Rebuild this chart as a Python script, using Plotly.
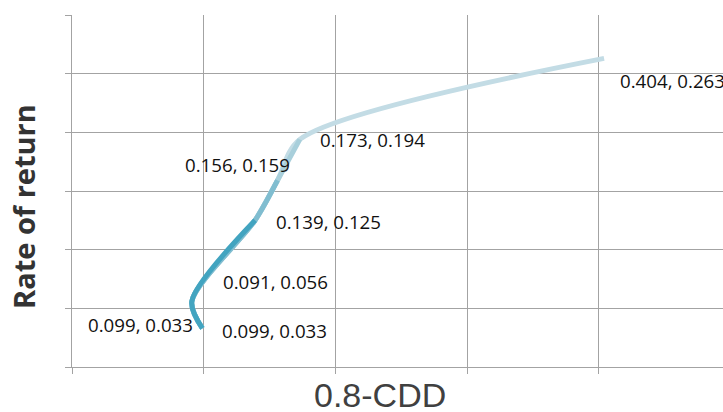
import plotly.graph_objects as go

# Data
x_vals = [0.099, 0.091, 0.139, 0.156, 0.173, 0.404]
y_vals = [0.033, 0.056, 0.125, 0.159, 0.194, 0.263]
# which point each data label belongs to
label_points = [0, 0, 1, 2, 3, 4, 5]
x_title = "0.8-CDD"
y_title = "Rate of return"

# Styling (label offsets in px, anchors)
label_style = [
    dict(xanchor="left", xshift=18, yshift=-2),
    dict(xanchor="right", xshift=-7, yshift=4),
    dict(xanchor="left", xshift=29, yshift=20),
    dict(xanchor="left", xshift=19, yshift=-1.5),
    dict(xanchor="right", xshift=15, yshift=15.5),
    dict(xanchor="left", xshift=18, yshift=-0.5),
    dict(xanchor="left", xshift=14, yshift=-22.5),
]
# gradient layers: (number of leading points, colour)
layers = [(6, "#c3dce5"), (5, "#a8cfdb"), (4, "#80bdd0"), (3, "#42a4c0")]
SMOOTH = 0.85

W, H = 723, 412
L, T, B = 72, 15, 45
pw, ph = W - L, H - T - B


def px2paper(px, py):
    return (px - L) / pw, (H - B - py) / ph


fig = go.Figure()
for n, col in layers:
    fig.add_trace(go.Scatter(
        x=x_vals[:n], y=y_vals[:n], mode="lines",
        line=dict(color=col, width=5, shape="spline", smoothing=SMOOTH),
        hoverinfo="skip", showlegend=False,
    ))

for idx, st in zip(label_points, label_style):
    fig.add_annotation(
        x=x_vals[idx], y=y_vals[idx], xref="x", yref="y",
        text=f"{x_vals[idx]:.3f}, {y_vals[idx]:.3f}",
        showarrow=False, yanchor="middle",
        font=dict(family="Open Sans", size=18.7, color="#111111"),
        **st,
    )

tx, ty = px2paper(380, 395)
fig.add_annotation(
    x=tx, y=ty, xref="paper", yref="paper", text=x_title, showarrow=False,
    xanchor="center", yanchor="middle",
    font=dict(family="Liberation Sans", size=34, color="#404040"),
)
yx, yy = px2paper(23, 207)
fig.add_annotation(
    x=yx, y=yy, xref="paper", yref="paper", text=f"<b>{y_title}</b>", showarrow=False,
    xanchor="center", yanchor="middle", textangle=-90,
    font=dict(family="Open Sans", size=29, color="#333333"),
)

grid = "#a3a3a3"
axis_common = dict(
    showgrid=True, gridcolor=grid, gridwidth=1.3,
    showline=True, linecolor=grid, linewidth=1.3,
    ticks="outside", ticklen=6, tickcolor=grid, tickwidth=1.3,
    showticklabels=False, zeroline=False, automargin=False,
)
fig.update_layout(
    width=W, height=H,
    margin=dict(l=L, r=0, t=T, b=B, pad=0, autoexpand=False),
    paper_bgcolor="white", plot_bgcolor="white",
    showlegend=False,
    xaxis=dict(range=[0, 0.4943], dtick=0.1, tick0=0, **axis_common),
    yaxis=dict(range=[0, 0.3], dtick=0.05, tick0=0, **axis_common),
)

fig.write_html(
    "out.html",
    config={"displayModeBar": False},
    post_script="document.body.style.margin='0';document.body.style.overflow='hidden';",
)
